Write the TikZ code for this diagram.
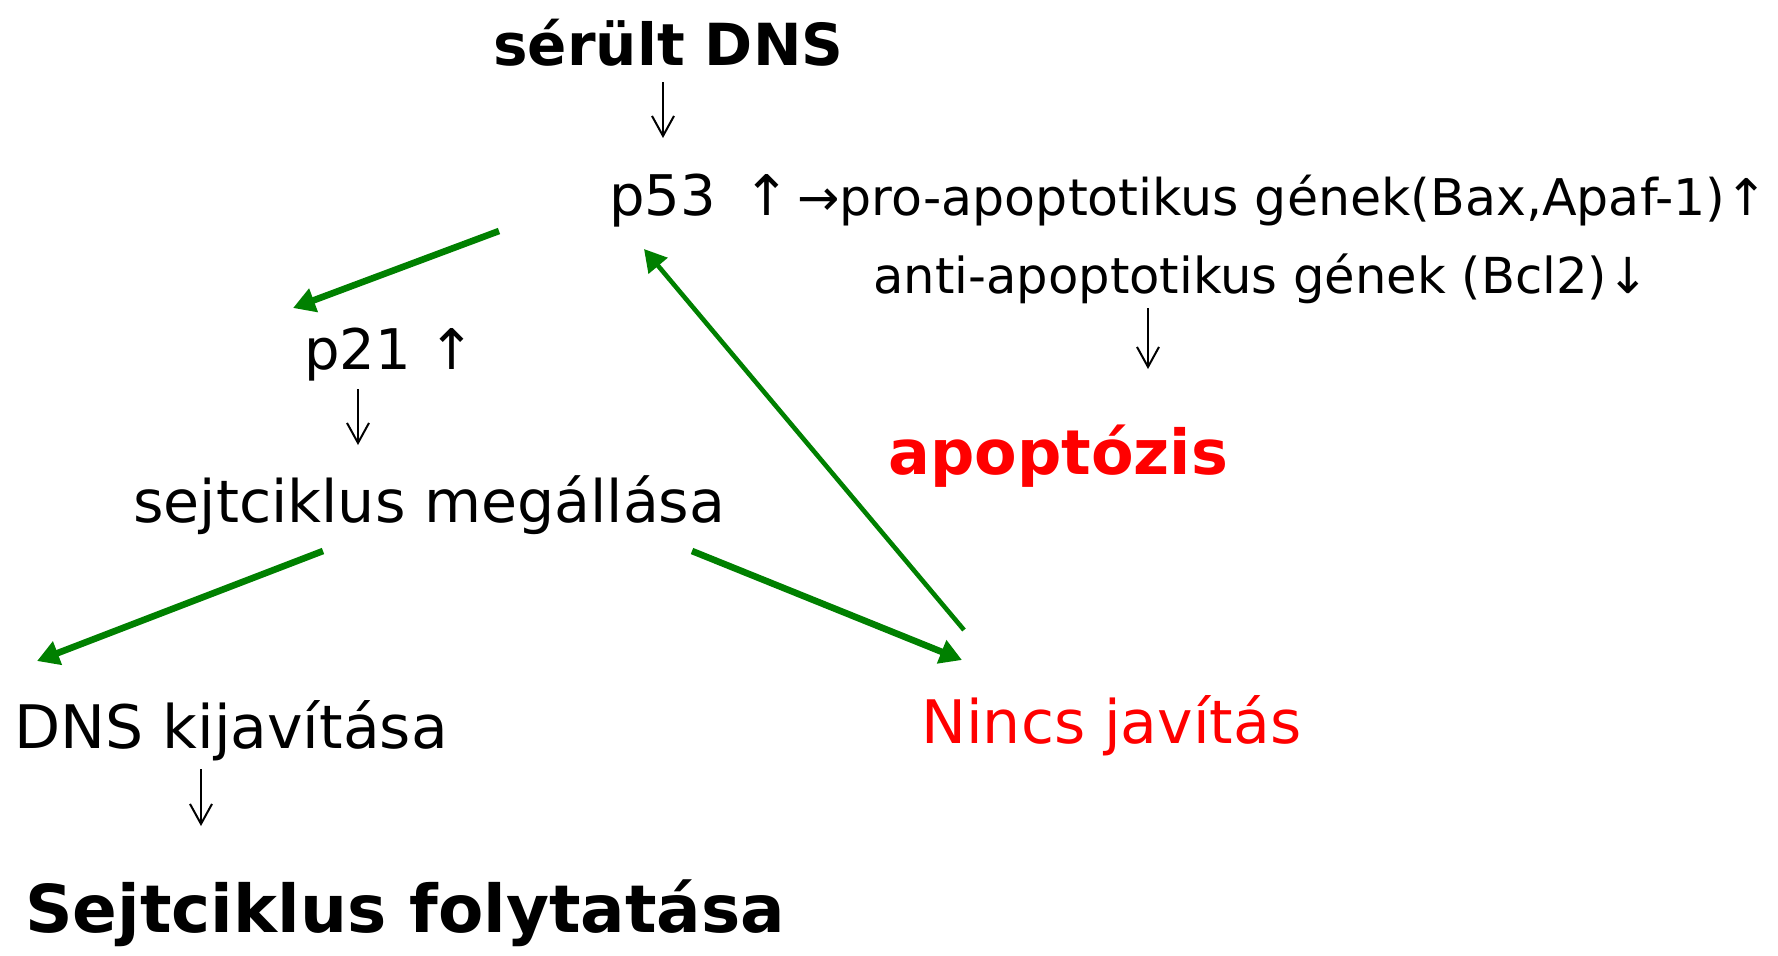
\documentclass[tikz,border=0pt]{standalone}
\usepackage{fontspec}
\setmainfont{DejaVu Sans}
\usetikzlibrary{arrows.meta, calc}
\definecolor{zold}{RGB}{0,128,0}
\definecolor{piros}{RGB}{255,0,0}

\begin{document}
\begin{tikzpicture}[x=0.5pt, y=-0.5pt,
    szoveg/.style={anchor=base west, inner sep=0pt, font=\fontsize{30}{33}\selectfont},
    rovid/.style={anchor=base west, inner sep=0pt, font=\fontsize{28}{31}\selectfont},
    kisszoveg/.style={anchor=base west, inner sep=0pt, font=\fontsize{25.3}{28}\selectfont},
    kiemelt/.style={anchor=base west, inner sep=0pt, font=\fontsize{29}{32}\selectfont\bfseries},
    nagy/.style={anchor=base west, inner sep=0pt, font=\fontsize{33}{36}\selectfont\bfseries},
    lefele/.style={-{Straight Barb[length=10pt, width=11pt, line width=1pt]}, line width=1pt},
    zoldnyil/.style={zold, line width=3.3pt, -{Triangle[length=11pt, width=12pt]}},
  ]
  \useasboundingbox (0,0) rectangle (1778,955);

  % felso resz
  \node[kiemelt] (serult) at (493,65) {sérült DNS};
  \node[rovid] (p53) at (609,215) {p53 \,↑};
  \node[kisszoveg] (pro) at (797,215) {→pro-apoptotikus gének(Bax,Apaf-1)↑};
  \node[kisszoveg, font=\fontsize{24.8}{28}\selectfont] (anti) at (873,293) {anti-apoptotikus gének (Bcl2)↓};
  \node[nagy, text=piros, font=\fontsize{31}{34}\selectfont\bfseries] (apop) at (888,474) {apoptózis};

  % bal oldal
  \node[rovid] (p21) at (304,369) {p21 ↑};
  \node[szoveg, font=\fontsize{29.3}{32}\selectfont] (megall) at (133,522) {sejtciklus megállása};
  \node[szoveg] (javit) at (14,748) {DNS kijavítása};
  \node[nagy, text=black] (folyt) at (25,932) {Sejtciklus folytatása};
  \node[szoveg, text=piros] (nincs) at (921,743) {Nincs javítás};

  % fekete nyilak
  \draw[lefele] ($(serult.base west)+(170,17)$) -- ($(p53.base west)+(54,-77)$);
  \draw[lefele] ($(anti.base west)+(275,15)$) -- ($(apop.base west)+(260,-105)$);
  \draw[lefele] ($(p21.base west)+(54,20)$) -- ($(megall.base west)+(225,-77)$);
  \draw[lefele] ($(javit.base west)+(187,21)$) -- ($(folyt.base west)+(176,-106)$);

  % zold nyilak
  \draw[zoldnyil] ($(p53.base west)+(-110,16)$) -- ($(p21.base west)+(-11,-61)$);
  \draw[zoldnyil] ($(megall.base west)+(190,29)$) -- ($(javit.base west)+(23,-87)$);
  \draw[zoldnyil] ($(megall.base west)+(559,29)$) -- ($(nincs.base west)+(41,-83)$);
  \draw[zoldnyil, line width=2.3pt] ($(nincs.base west)+(43,-113)$) -- ($(p53.base west)+(35,34)$);
\end{tikzpicture}
\end{document}
